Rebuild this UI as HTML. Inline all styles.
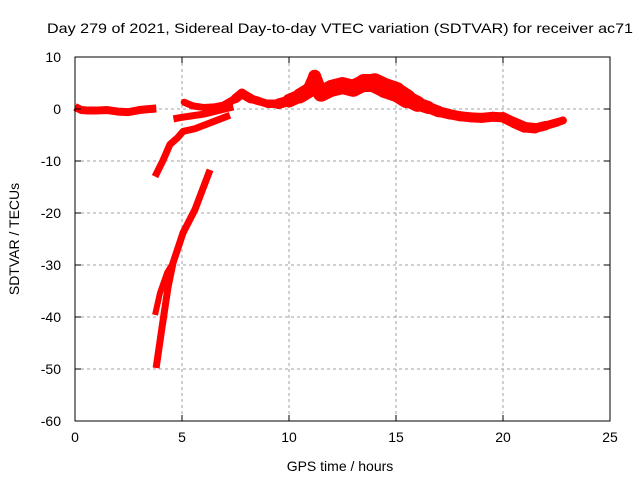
<!DOCTYPE html>
<html><head><meta charset="utf-8"><style>body{margin:0;background:#fff}svg{display:block;font-family:"Liberation Sans",sans-serif}</style></head>
<body>
<svg id="chart" width="640" height="480">
<rect width="640" height="480" fill="#fff"/>
<text x="340" y="33" font-size="14" text-anchor="middle" textLength="586" lengthAdjust="spacingAndGlyphs">Day 279 of 2021, Sidereal Day-to-day VTEC variation (SDTVAR) for receiver ac71</text>
<g id="grid"></g>
<g id="series"></g>
<rect x="75" y="57" width="535" height="364" fill="none" stroke="#000" stroke-width="1"/>
<g id="ticks"></g>
<text x="340" y="471" font-size="14" text-anchor="middle">GPS time / hours</text>
<text transform="translate(19,239) rotate(-90)" font-size="14" text-anchor="middle">SDTVAR / TECUs</text>
</svg>
<script>
const xTicks=[0,5,10,15,20,25];
const yTicks=[10,0,-10,-20,-30,-40,-50,-60];
const segA_x=[0,0.3,0.6,1,1.5,2,2.5,3,3.5,3.8];
const segA_y=[0.4,-0.2,-0.3,-0.3,-0.2,-0.5,-0.6,-0.2,0,0.1];
const segB_x=[5.1,5.5,6,6.5,7,7.5,7.8,8.2,8.6,9,9.5,10,10.5,10.9,11.2,11.5,12,12.5,13,13.5,14,14.5,15,15.5,16,16.5,17,17.5,18,18.5,19,19.5,20,20.5,21,21.5,22,22.5,22.8];
const segB_y=[1.3,0.6,0.3,0.4,0.8,2,3,2,1.5,1,1,1.6,2.5,3.5,6.3,3,4,4.5,4,5,5,4,3.3,2,1,0.3,-0.5,-1,-1.4,-1.6,-1.7,-1.5,-1.6,-2.6,-3.5,-3.7,-3.2,-2.6,-2.2];
const segB_w=[7,7,7,7,7,9,10,9,8,8,9,12,15,15,10,16,17,17,17,17,19,20,20,18,14,12,11,10,10,10,10,10,10,11,11,10,9,8,8];
const segC_x=[4.6,5,5.5,6,6.5,7,7.4];
const segC_y=[-1.9,-1.6,-1.3,-1,-0.5,0,0.4];
const segD_x=[3.74,4.1,4.44,4.8,5.05,5.6,6.3,6.8,7.24];
const segD_y=[-13,-10,-6.8,-5.5,-4.3,-3.8,-2.7,-1.9,-1.2];
const segE1_x=[3.79,4.07,4.35,4.58,5.05,5.6,6.31];
const segE1_y=[-49.8,-41.9,-34.2,-29.6,-23.8,-19.4,-11.7];
const segE2_x=[3.74,3.97,4.3,4.58];
const segE2_y=[-39.6,-35.4,-31.5,-29.6];

const X=v=>75+v*535/25, Y=v=>57+(10-v)*364/70;
const NS='http://www.w3.org/2000/svg';
function mk(t,a,p){const e=document.createElementNS(NS,t);for(const k in a)e.setAttribute(k,a[k]);p.appendChild(e);return e;}
const grid=document.getElementById('grid'), ticks=document.getElementById('ticks'), ser=document.getElementById('series');
xTicks.forEach(t=>{
 if(t>0&&t<25){const l=mk('line',{x1:X(t),x2:X(t),y1:57,y2:421,stroke:'#a0a0a0','stroke-dasharray':'3,3'},grid);
 
 }
 mk('line',{x1:X(t),x2:X(t),y1:421,y2:415,stroke:'#000'},ticks);
 mk('line',{x1:X(t),x2:X(t),y1:57,y2:63,stroke:'#000'},ticks);
 const tx=mk('text',{x:X(t),y:442,'font-size':14,'text-anchor':'middle'},ticks);tx.textContent=t;
 
 
});
yTicks.forEach(t=>{
 if(t<10&&t>-60){const l=mk('line',{x1:75,x2:610,y1:Y(t),y2:Y(t),stroke:'#a0a0a0','stroke-dasharray':'3,3'},grid);
 
 }
 mk('line',{x1:75,x2:81,y1:Y(t),y2:Y(t),stroke:'#000'},ticks);
 mk('line',{x1:604,x2:610,y1:Y(t),y2:Y(t),stroke:'#000'},ticks);
 const tx=mk('text',{x:61,y:Y(t)+5,'font-size':14,'text-anchor':'end'},ticks);tx.textContent=t;
 
 
});
function seg(xs,ys,w,name){
 const pts=xs.map((x,i)=>X(x)+','+Y(ys[i])).join(' ');
 const p=mk('polyline',{points:pts,fill:'none',stroke:'#f00','stroke-width':w,'stroke-linejoin':'round','stroke-linecap':'butt'},ser);
 
 
}
function segVar(xs,ys,ws,name){
 for(let i=0;i<xs.length-1;i++){
  const p=mk('line',{x1:X(xs[i]),y1:Y(ys[i]),x2:X(xs[i+1]),y2:Y(ys[i+1]),stroke:'#f00','stroke-width':(ws[i]+ws[i+1])/2,'stroke-linecap':'round'},ser);
  
  
 }
}
seg(segA_x,segA_y,8,'series-segment-a');
segVar(segB_x,segB_y,segB_w,'series-segment-b');
seg(segC_x,segC_y,7,'series-segment-c');
seg(segD_x,segD_y,7,'series-segment-d');
seg(segE1_x,segE1_y,7,'series-segment-e1');
seg(segE2_x,segE2_y,6,'series-segment-e2');
</script>
</body></html>
